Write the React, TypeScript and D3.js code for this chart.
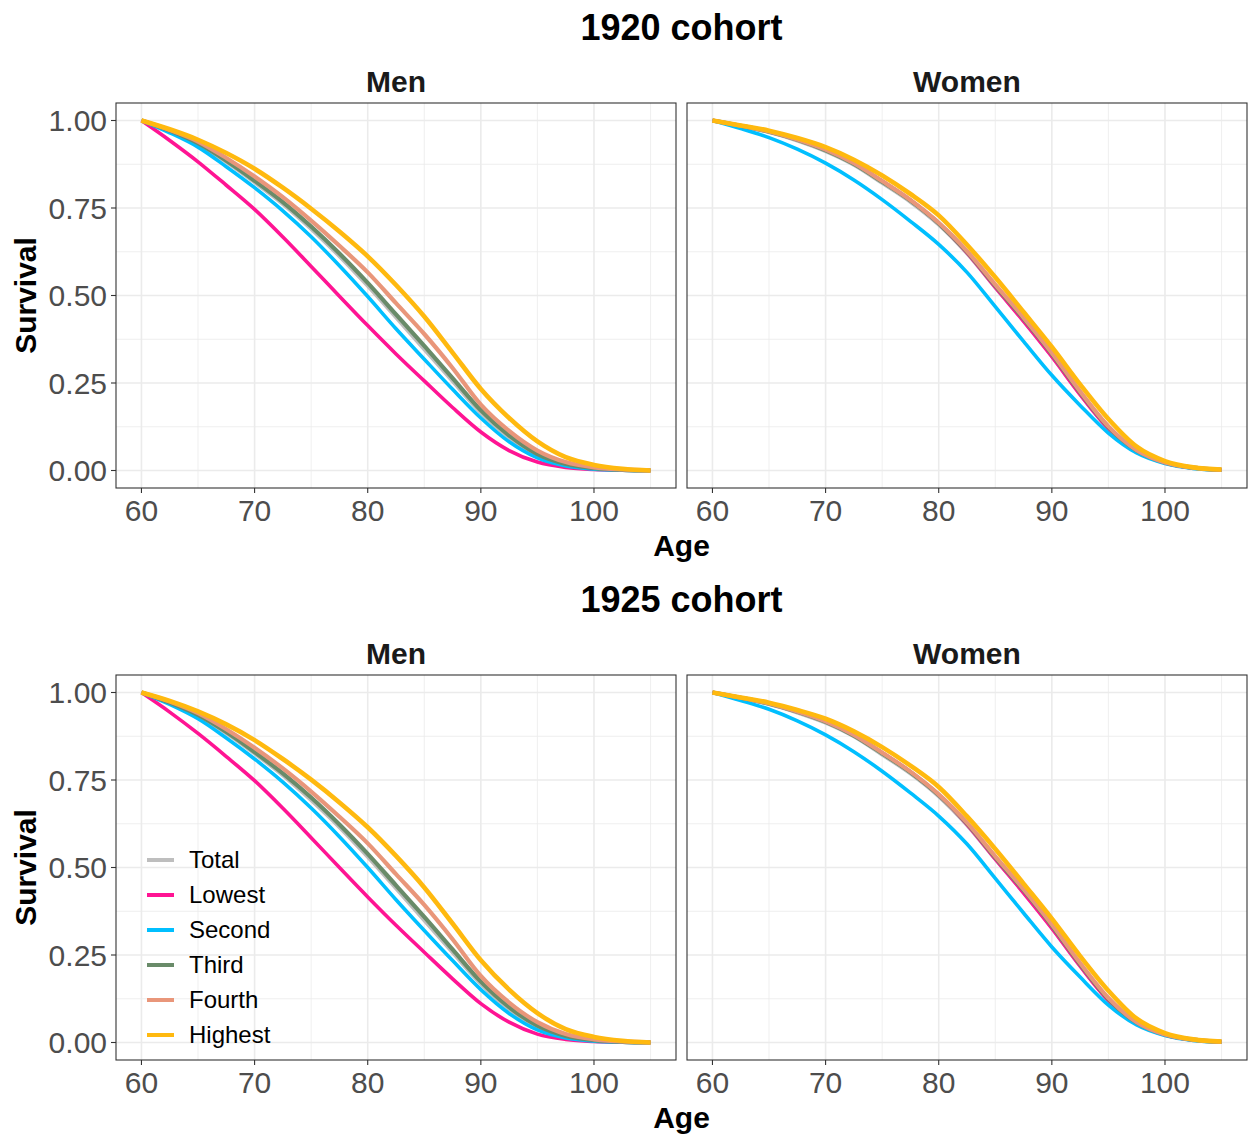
import React from "react";
import * as d3 from "d3";

const ages = [60, 62.5, 65, 67.5, 70, 72.5, 75, 77.5, 80, 82.5, 85, 87.5, 90, 92.5, 95, 97.5, 100, 102.5, 105];
const groups = ["Total", "Lowest", "Second", "Third", "Fourth", "Highest"];
const groupColors = ["#bebebe", "#ff1493", "#00bfff", "#698b69", "#e9967a", "#ffb90f"];
const xTicks = [60, 70, 80, 90, 100];
const xMinor = [65, 75, 85, 95, 105];
const yTicks = [0, 0.25, 0.5, 0.75, 1];
const yMinor = [0.125, 0.375, 0.625, 0.875];
const cohorts = ["1920 cohort", "1925 cohort"];
const sexes = ["Men", "Women"];

// 1920 cohort, men
const men1920Total = [1, 0.970, 0.933, 0.882, 0.824, 0.762, 0.691, 0.613, 0.528, 0.438, 0.347, 0.256, 0.166, 0.095, 0.044, 0.017, 0.006, 0.002, 0];
const men1920Lowest = [1, 0.943, 0.882, 0.815, 0.746, 0.667, 0.583, 0.498, 0.414, 0.333, 0.256, 0.180, 0.110, 0.057, 0.024, 0.009, 0.003, 0.001, 0];
const men1920Second = [1, 0.965, 0.924, 0.868, 0.808, 0.742, 0.668, 0.585, 0.497, 0.405, 0.318, 0.232, 0.150, 0.082, 0.036, 0.013, 0.004, 0.001, 0];
const men1920Third = [1, 0.971, 0.935, 0.885, 0.828, 0.767, 0.697, 0.620, 0.536, 0.446, 0.356, 0.264, 0.172, 0.100, 0.047, 0.019, 0.007, 0.002, 0];
const men1920Fourth = [1, 0.973, 0.940, 0.893, 0.840, 0.781, 0.714, 0.642, 0.566, 0.478, 0.390, 0.293, 0.188, 0.113, 0.057, 0.024, 0.009, 0.003, 0];
const men1920Highest = [1, 0.975, 0.945, 0.907, 0.862, 0.808, 0.748, 0.683, 0.612, 0.530, 0.440, 0.337, 0.233, 0.150, 0.083, 0.038, 0.016, 0.005, 0];

// 1920 cohort, women
const women1920Total = [1, 0.984, 0.967, 0.943, 0.913, 0.874, 0.822, 0.768, 0.703, 0.621, 0.524, 0.429, 0.328, 0.219, 0.121, 0.056, 0.022, 0.007, 0.002];
const women1920Lowest = [1, 0.985, 0.969, 0.946, 0.917, 0.878, 0.827, 0.772, 0.706, 0.622, 0.523, 0.426, 0.325, 0.217, 0.120, 0.055, 0.022, 0.007, 0.002];
const women1920Second = [1, 0.977, 0.951, 0.918, 0.878, 0.830, 0.774, 0.712, 0.646, 0.566, 0.468, 0.369, 0.272, 0.186, 0.107, 0.050, 0.020, 0.006, 0.001];
const women1920Third = [1, 0.985, 0.968, 0.945, 0.915, 0.876, 0.825, 0.771, 0.706, 0.625, 0.528, 0.434, 0.333, 0.223, 0.124, 0.057, 0.023, 0.008, 0.002];
const women1920Fourth = [1, 0.985, 0.969, 0.946, 0.917, 0.878, 0.827, 0.773, 0.708, 0.627, 0.531, 0.437, 0.336, 0.226, 0.126, 0.058, 0.023, 0.008, 0.002];
const women1920Highest = [1, 0.986, 0.971, 0.950, 0.924, 0.888, 0.843, 0.790, 0.729, 0.645, 0.552, 0.453, 0.353, 0.246, 0.147, 0.068, 0.027, 0.009, 0.003];

// 1925 cohort, men
const men1925Total = [1, 0.970, 0.934, 0.884, 0.826, 0.764, 0.693, 0.616, 0.531, 0.441, 0.350, 0.258, 0.168, 0.096, 0.045, 0.017, 0.006, 0.002, 0];
const men1925Lowest = [1, 0.944, 0.883, 0.817, 0.748, 0.669, 0.585, 0.500, 0.416, 0.335, 0.258, 0.182, 0.111, 0.058, 0.024, 0.009, 0.003, 0.001, 0];
const men1925Second = [1, 0.966, 0.925, 0.870, 0.810, 0.744, 0.670, 0.588, 0.500, 0.408, 0.320, 0.234, 0.151, 0.083, 0.036, 0.013, 0.004, 0.001, 0];
const men1925Third = [1, 0.971, 0.936, 0.887, 0.830, 0.769, 0.700, 0.623, 0.539, 0.449, 0.359, 0.266, 0.174, 0.101, 0.048, 0.019, 0.007, 0.002, 0];
const men1925Fourth = [1, 0.974, 0.941, 0.895, 0.842, 0.783, 0.717, 0.645, 0.569, 0.481, 0.393, 0.295, 0.190, 0.114, 0.058, 0.024, 0.009, 0.003, 0];
const men1925Highest = [1, 0.976, 0.946, 0.909, 0.864, 0.810, 0.751, 0.686, 0.615, 0.533, 0.443, 0.340, 0.235, 0.151, 0.084, 0.038, 0.016, 0.005, 0];

// 1925 cohort, women
const women1925Total = [1, 0.984, 0.967, 0.943, 0.914, 0.875, 0.823, 0.769, 0.704, 0.622, 0.525, 0.430, 0.329, 0.220, 0.122, 0.056, 0.022, 0.007, 0.002];
const women1925Lowest = [1, 0.985, 0.969, 0.946, 0.917, 0.879, 0.828, 0.773, 0.707, 0.623, 0.524, 0.427, 0.326, 0.218, 0.120, 0.055, 0.022, 0.007, 0.002];
const women1925Second = [1, 0.977, 0.952, 0.919, 0.879, 0.831, 0.775, 0.713, 0.647, 0.567, 0.469, 0.370, 0.273, 0.187, 0.107, 0.050, 0.020, 0.006, 0.001];
const women1925Third = [1, 0.985, 0.968, 0.945, 0.916, 0.877, 0.826, 0.772, 0.707, 0.626, 0.529, 0.435, 0.334, 0.224, 0.124, 0.057, 0.023, 0.008, 0.002];
const women1925Fourth = [1, 0.985, 0.969, 0.946, 0.918, 0.879, 0.828, 0.774, 0.709, 0.628, 0.532, 0.438, 0.337, 0.227, 0.127, 0.058, 0.023, 0.008, 0.002];
const women1925Highest = [1, 0.986, 0.971, 0.950, 0.925, 0.889, 0.844, 0.791, 0.730, 0.646, 0.553, 0.454, 0.354, 0.247, 0.148, 0.068, 0.027, 0.009, 0.003];

const panelSeries = [
  [
    [men1920Total, men1920Lowest, men1920Second, men1920Third, men1920Fourth, men1920Highest],
    [women1920Total, women1920Lowest, women1920Second, women1920Third, women1920Fourth, women1920Highest],
  ],
  [
    [men1925Total, men1925Lowest, men1925Second, men1925Third, men1925Fourth, men1925Highest],
    [women1925Total, women1925Lowest, women1925Second, women1925Third, women1925Fourth, women1925Highest],
  ],
];

const FONT = "'Liberation Sans', Arial, Helvetica, sans-serif";
const PW = 560;
const PH = 385;
const panelX = [116, 687];
const panelY = [103, 675];
const strokeW = [4.2, 3.6, 3.6, 4.2, 4.2, 4.6];

const x = d3.scaleLinear().domain([57.75, 107.25]).range([0, PW]);
const y = d3.scaleLinear().domain([-0.05, 1.05]).range([PH, 0]);
const line = d3
  .line<number>()
  .x((_, i) => x(ages[i]))
  .y((v) => y(v))
  .curve(d3.curveMonotoneX);

function Panel({ ci, si }: { ci: number; si: number }) {
  const px = panelX[si];
  const py = panelY[ci];
  const series = panelSeries[ci][si];
  const clipId = `clip-${ci}-${si}`;
  return (
    <g transform={`translate(${px},${py})`}>
      <defs>
        <clipPath id={clipId}>
          <rect x={0} y={0} width={PW} height={PH} />
        </clipPath>
      </defs>
      <rect x={0} y={0} width={PW} height={PH} fill="#fff" />
      {yMinor.map((t) => (
        <line key={`ym${t}`} x1={0} x2={PW} y1={y(t)} y2={y(t)} stroke="#ebebeb" strokeWidth={0.8} />
      ))}
      {xMinor.map((t) => (
        <line key={`xm${t}`} y1={0} y2={PH} x1={x(t)} x2={x(t)} stroke="#ebebeb" strokeWidth={0.8} />
      ))}
      {yTicks.map((t) => (
        <line key={`y${t}`} x1={0} x2={PW} y1={y(t)} y2={y(t)} stroke="#ebebeb" strokeWidth={1.6} />
      ))}
      {xTicks.map((t) => (
        <line key={`x${t}`} y1={0} y2={PH} x1={x(t)} x2={x(t)} stroke="#ebebeb" strokeWidth={1.6} />
      ))}
      <g clipPath={`url(#${clipId})`}>
        {series.map((vals, gi) => (
          <path
            key={groups[gi]}
            d={line(vals) || ""}
            fill="none"
            stroke={groupColors[gi]}
            strokeWidth={strokeW[gi]}
            strokeLinejoin="round"
            strokeLinecap="butt"
          />
        ))}
      </g>
      <rect x={0} y={0} width={PW} height={PH} fill="none" stroke="#333333" strokeWidth={1.1} />
      {xTicks.map((t) => (
        <g key={`xt${t}`}>
          <line x1={x(t)} x2={x(t)} y1={PH} y2={PH + 5} stroke="#333333" strokeWidth={1.1} />
          <text x={x(t)} y={PH + 33} textAnchor="middle" fontSize={30} fill="#4d4d4d" fontFamily={FONT}>
            {t}
          </text>
        </g>
      ))}
      {si === 0 &&
        yTicks.map((t) => (
          <g key={`yt${t}`}>
            <line x1={-5} x2={0} y1={y(t)} y2={y(t)} stroke="#333333" strokeWidth={1.1} />
            <text x={-9} y={y(t) + 10.5} textAnchor="end" fontSize={30} fill="#4d4d4d" fontFamily={FONT}>
              {t.toFixed(2)}
            </text>
          </g>
        ))}
      <text x={PW / 2} y={-11} textAnchor="middle" fontSize={30} fontWeight="bold" fill="#1a1a1a" fontFamily={FONT}>
        {sexes[si]}
      </text>
    </g>
  );
}

export default function App() {
  const centerX = (panelX[0] + panelX[1] + PW) / 2;
  return (
    <svg
      width={1249}
      height={1137}
      style={{ position: "absolute", left: 0, top: 0, background: "#fff" }}
      fontFamily={FONT}
    >
      <rect x={0} y={0} width={1249} height={1137} fill="#fff" />
      {cohorts.map((c, ci) => (
        <g key={c}>
          <text x={centerX} y={panelY[ci] - 63} textAnchor="middle" fontSize={36} fontWeight="bold" fill="#000">
            {c}
          </text>
          {sexes.map((s, si) => (
            <Panel key={s} ci={ci} si={si} />
          ))}
          <text x={centerX} y={panelY[ci] + PH + 68} textAnchor="middle" fontSize={30} fontWeight="bold" fill="#000">
            Age
          </text>
          <text
            transform={`translate(36,${panelY[ci] + PH / 2}) rotate(-90)`}
            textAnchor="middle"
            fontSize={30}
            fontWeight="bold"
            fill="#000"
          >
            Survival
          </text>
        </g>
      ))}
      <g>
        {groups.map((g, gi) => (
          <g key={g} transform={`translate(0,${860 + gi * 35})`}>
            <line x1={147} x2={174} y1={0} y2={0} stroke={groupColors[gi]} strokeWidth={4} />
            <text x={189} y={8} fontSize={24} fill="#000">
              {g}
            </text>
          </g>
        ))}
      </g>
    </svg>
  );
}
